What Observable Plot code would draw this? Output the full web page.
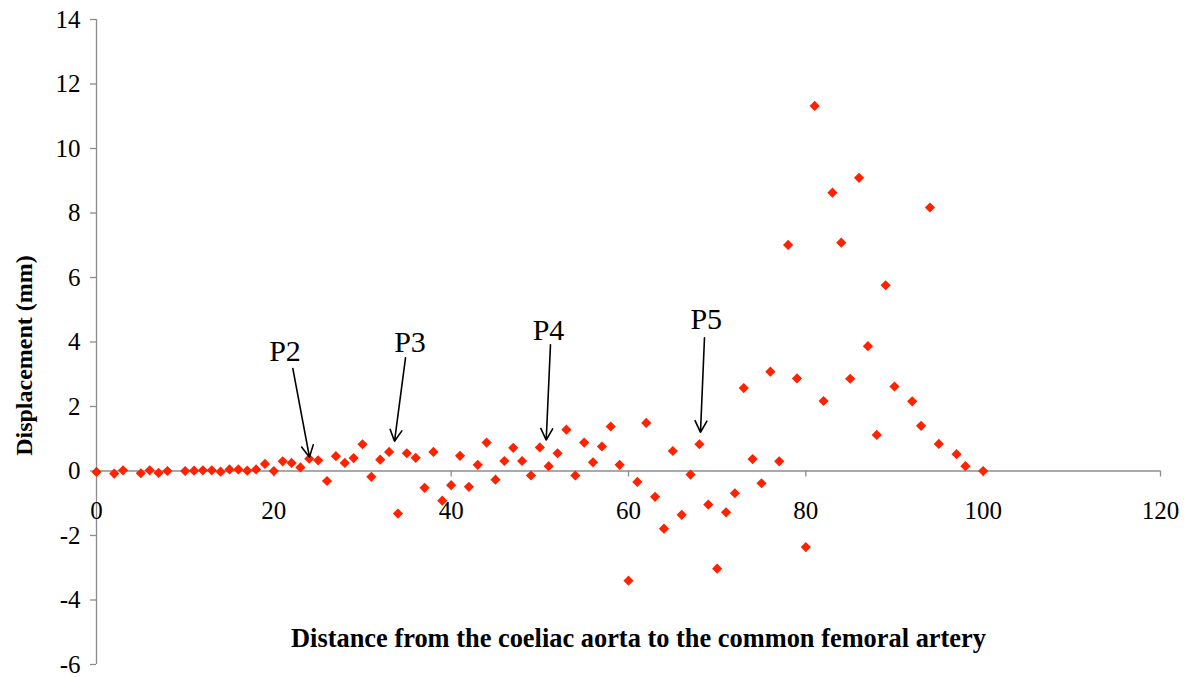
<!DOCTYPE html>
<html>
<head>
<meta charset="utf-8">
<script src="https://cdn.jsdelivr.net/npm/d3@7"></script>
<script src="https://cdn.jsdelivr.net/npm/@observablehq/plot@0.6"></script>
<style>
  html, body { margin: 0; padding: 0; background: #fff; }
  #chart { width: 1184px; height: 677px; }
</style>
</head>
<body>
<div id="chart"></div>
<script>
// Distance (x) and displacement in mm (y)
const distance = [0,2,3,5,6,7,8,10,11,12,13,14,15,16,17,18,19,20,21,22,23,24,25,26,27,28,29,30,
  31,32,33,34,35,36,37,38,39,40,41,42,43,44,45,46,47,48,49,50,51,52,53,54,55,56,57,58,59,60,
  61,62,63,64,65,66,67,68,69,70,71,72,73,74,75,76,77,78,79,80,81,82,83,84,85,86,87,88,89,90,
  92,93,94,95,97,98,100];
const displacement = [-0.03,-0.08,0.02,-0.07,0.02,-0.06,0.00,0.00,0.01,0.02,0.02,-0.02,0.05,0.05,0.01,0.05,0.22,0.00,0.30,0.25,0.11,0.38,0.33,-0.31,0.46,0.25,0.40,0.83,
  -0.18,0.35,0.59,-1.32,0.55,0.41,-0.52,0.59,-0.92,-0.44,0.47,-0.49,0.19,0.88,-0.27,0.31,0.72,0.31,-0.14,0.73,0.15,0.55,1.28,-0.14,0.88,0.27,0.76,1.38,0.19,-3.40,
  -0.34,1.49,-0.80,-1.79,0.62,-1.36,-0.11,0.83,-1.04,-3.03,-1.28,-0.69,2.57,0.37,-0.38,3.08,0.30,7.01,2.87,-2.36,11.32,2.17,8.63,7.08,2.86,9.09,3.87,1.12,5.76,2.62,
  2.16,1.40,8.17,0.84,0.52,0.15,0.00];

const xTicks = [0, 20, 40, 60, 80, 100, 120];
const yTicks = [-6, -4, -2, 0, 2, 4, 6, 8, 10, 12, 14];

// Annotations
const pLabels = ["P2", "P3", "P4", "P5"];
const labelX = [21.26, 35.36, 50.98, 68.77];
const labelY = [3.71, 4.00, 4.36, 4.71];
const arrowX1 = [22.14, 34.85, 51.20, 68.57];
const arrowY1 = [3.18, 3.51, 3.91, 4.13];
const arrowX2 = [24.02, 33.61, 50.72, 68.12];
const arrowY2 = [0.43, 0.92, 0.96, 1.20];

const xTitle = "Distance from the coeliac aorta to the common femoral artery";
const yTitle = "Displacement (mm)";

const points = distance.map((d, i) => ({x: d, y: displacement[i]}));
const notes = pLabels.map((t, i) => ({t, lx: labelX[i], ly: labelY[i], x1: arrowX1[i], y1: arrowY1[i], x2: arrowX2[i], y2: arrowY2[i]}));

const FONT = "'Liberation Serif', 'Times New Roman', serif";
const AXIS = "#8c8c8c";

const chart = Plot.plot({
  width: 1184,
  height: 677,
  marginLeft: 96,
  marginRight: 24,
  marginTop: 19,
  marginBottom: 13,
  style: {fontFamily: FONT, background: "#fff", color: "#000"},
  x: {domain: [0, 120], axis: null},
  y: {domain: [-6, 14], axis: null},
  marks: [
    // y axis line and ticks
    Plot.ruleX([0], {y1: -6, y2: 14, stroke: AXIS, strokeWidth: 1.3}),
    Plot.axisY({ticks: yTicks, tickSize: 6, tickPadding: 10, tickFormat: d => String(d), stroke: AXIS, strokeWidth: 1.3, fill: "#000", fontSize: 25, fontFamily: FONT, label: null}),
    // x axis line at y = 0
    Plot.ruleY([0], {x1: 0, x2: 120, stroke: AXIS, strokeWidth: 1.3}),
    Plot.ruleX(xTicks.slice(1), {x: d => d, y1: 0, y2: 0, insetBottom: -6, stroke: AXIS, strokeWidth: 1.3}),
    Plot.text(xTicks, {x: d => d, y: 0, dy: 40, text: d => String(d), fontSize: 25, fontFamily: FONT, fill: "#000"}),
    // data
    Plot.dot(points, {x: "x", y: "y", symbol: "diamond2", r: 4.6, fill: "#ff2200", stroke: "none"}),
    // annotations
    Plot.arrow(notes, {x1: "x1", y1: "y1", x2: "x2", y2: "y2", stroke: "#000", strokeWidth: 1.6, headLength: 12, headAngle: 55}),
    Plot.text(notes, {x: "lx", y: "ly", text: "t", fontSize: 30, fontFamily: FONT, fill: "#000"}),
    // titles
    Plot.text([xTitle], {frameAnchor: "bottom", dx: 10, dy: -17.5, fontSize: 26.4, fontWeight: "bold", fontFamily: FONT, fill: "#000"}),
    Plot.text([yTitle], {frameAnchor: "left", textAnchor: "middle", rotate: -90, dx: -72, dy: 13.5, fontSize: 24, fontWeight: "bold", fontFamily: FONT, fill: "#000"})
  ]
});

document.getElementById("chart").appendChild(chart);
</script>
</body>
</html>
